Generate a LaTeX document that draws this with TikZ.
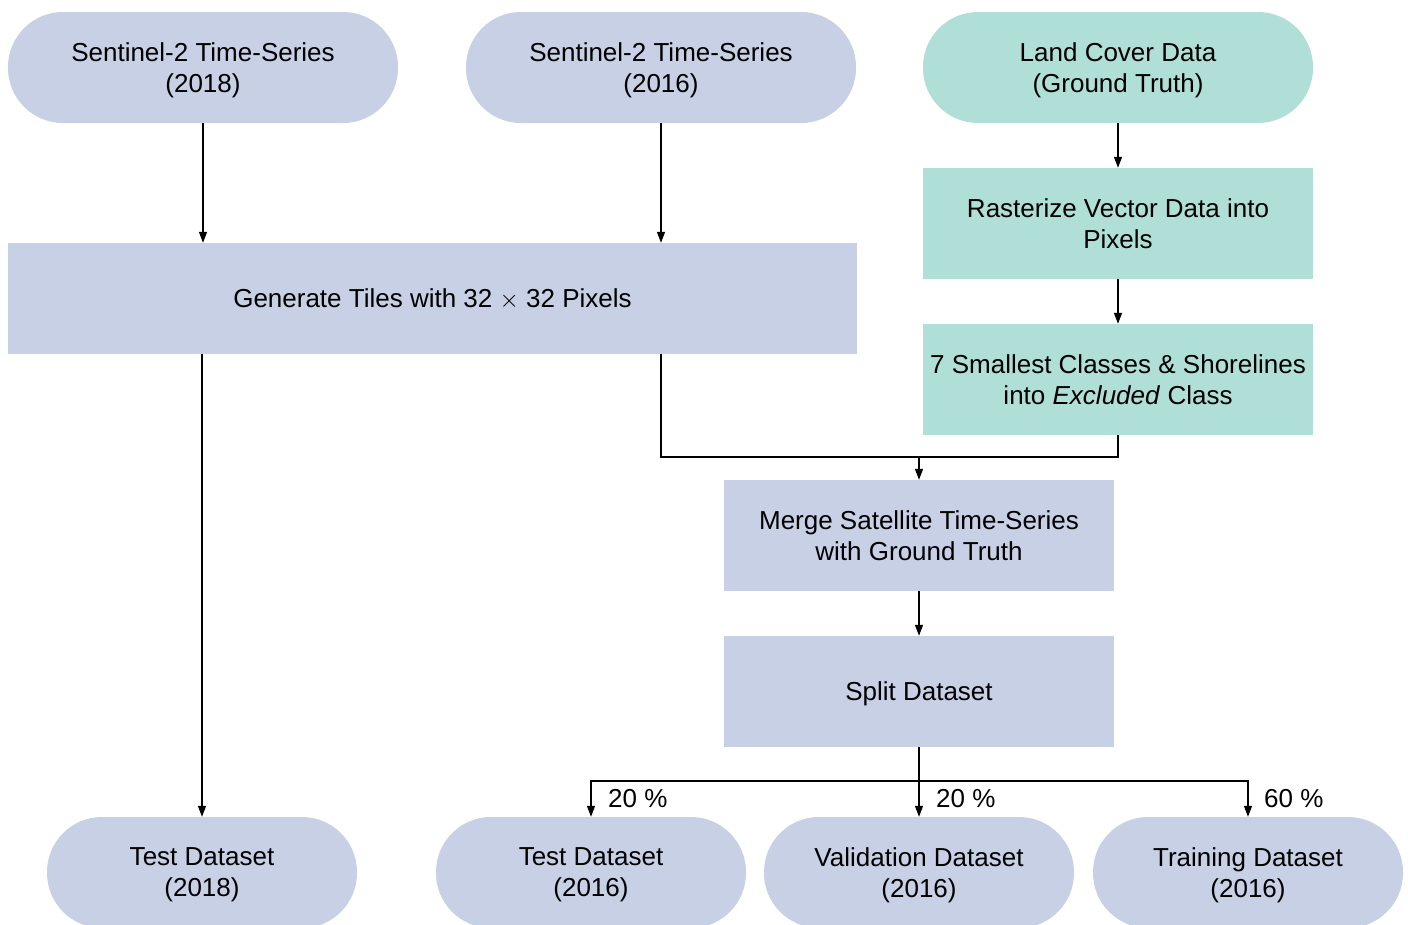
\documentclass[tikz,border=0pt]{standalone}
\usepackage{fontspec}
\setmainfont{Liberation Sans}
\usetikzlibrary{arrows.meta}
\definecolor{blueF}{RGB}{200,208,230}
\definecolor{greenF}{RGB}{176,223,216}
\begin{document}
\begin{tikzpicture}[x=1pt,y=-1pt,
  base/.style={align=center, inner sep=0pt, text depth=0pt, font=\fontsize{26}{31}\selectfont, text=black},
  pillb/.style={base, fill=blueF, rounded corners=55pt, minimum width=390pt, minimum height=111pt},
  pillg/.style={base, fill=greenF, rounded corners=55pt, minimum width=390pt, minimum height=111pt},
  pills/.style={base, fill=blueF, rounded corners=55pt, minimum width=310pt, minimum height=111pt},
  boxb/.style={base, fill=blueF, minimum width=390pt, minimum height=111pt},
  boxg/.style={base, fill=greenF, minimum width=390pt, minimum height=111pt},
  arr/.style={-{Triangle[length=11pt,width=8pt]}, line width=1.3pt},
  ln/.style={line width=1.3pt},
  lab/.style={anchor=west, inner sep=0pt, font=\fontsize{26}{31}\selectfont}]
\clip (0,0) rectangle (1408,924);
\fill[white] (0,0) rectangle (1408,924);
\node[pillb] (s18) at (203,67.5) {Sentinel-2 Time-Series\\(2018)};
\node[pillb] (s16) at (661,67.5) {Sentinel-2 Time-Series\\(2016)};
\node[pillg] (lc) at (1118,67.5) {Land Cover Data\\(Ground Truth)};
\node[boxg] (ras) at (1118,223.5) {Rasterize Vector Data into\\Pixels};
\node[boxg] (exc) at (1118,379.5) {7 Smallest Classes \& Shorelines\\into \textit{Excluded} Class};
\node[boxb, minimum width=849pt] (gen) at (432.5,298.5) {Generate Tiles with 32 $\times$ 32 Pixels};
\node[boxb] (mer) at (919,535.5) {Merge Satellite Time-Series\\with Ground Truth};
\node[boxb] (spl) at (919,691.5) {Split Dataset};
\node[pills] (t18) at (202,872.5) {Test Dataset\\(2018)};
\node[pills] (t16) at (591,872.5) {Test Dataset\\(2016)};
\node[pills] (val) at (919,872.5) {Validation Dataset\\(2016)};
\node[pills] (tr) at (1248,872.5) {Training Dataset\\(2016)};
\coordinate (j) at (919,457);
\coordinate (k) at (919,781);
\draw[arr] (s18.south) -- (s18.south |- gen.north);
\draw[arr] (s16.south) -- (s16.south |- gen.north);
\draw[arr] (lc.south) -- (ras.north);
\draw[arr] (ras.south) -- (exc.north);
\draw[arr] (gen.south -| t18.north) -- (t18.north);
\draw[arr] (gen.south -| s16.south) |- (j) -- (mer.north);
\draw[ln] (exc.south) |- (j);
\draw[arr] (mer.south) -- (spl.north);
\draw[arr] (spl.south) -- (val.north);
\draw[arr] (k) -| (t16.north);
\draw[arr] (k) -| (tr.north);
\node[lab] (l1) at (608,799) {20 \%};
\node[lab] (l2) at (936,799) {20 \%};
\node[lab] (l3) at (1264,799) {60 \%};
\end{tikzpicture}
\end{document}
